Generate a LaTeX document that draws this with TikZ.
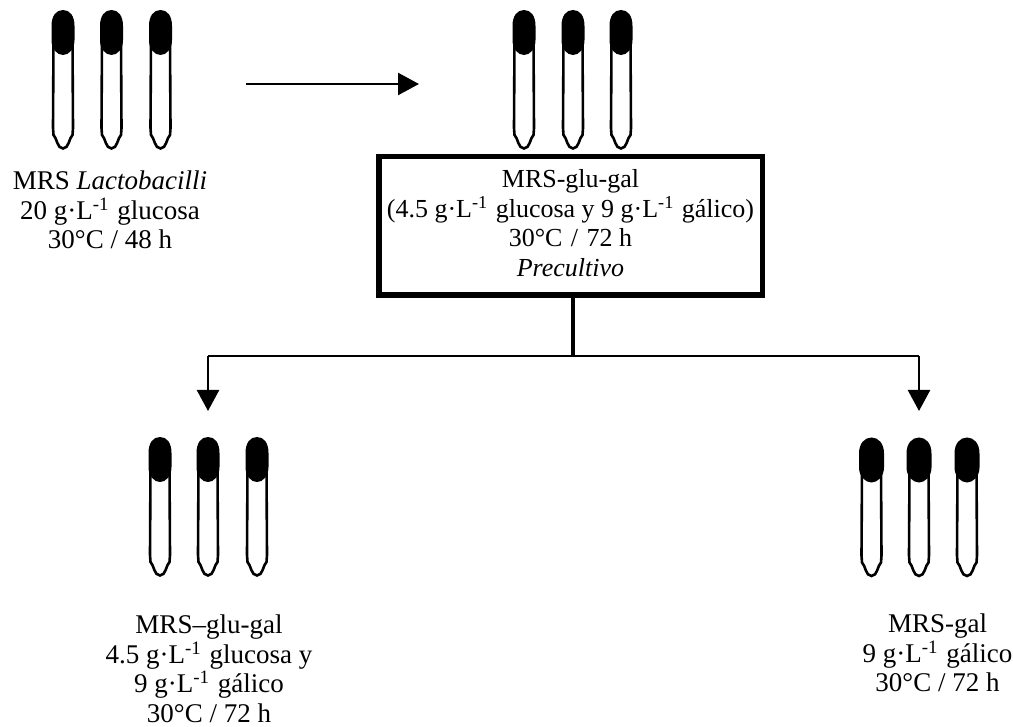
\documentclass[tikz,border=0pt]{standalone}
\usepackage{fontspec}
\setmainfont{Liberation Serif}
\usetikzlibrary{arrows.meta}
\newcommand{\inv}{\textsuperscript{-1}\hspace{1.5pt}}
\newcommand{\tube}[3]{%
  % #1 centre x, #2 top y, #3 half width of the cap
  \draw[tubeline] (#1-9.5,#2+30) -- (#1-10,#2+118) -- (#1-9.5,#2+125)
    .. controls (#1-6,#2+128) and (#1-6,#2+138.5) .. (#1,#2+138.5)
    .. controls (#1+6,#2+138.5) and (#1+6,#2+128) .. (#1+9.5,#2+125)
    -- (#1+10,#2+118) -- (#1+9.5,#2+30);
  \fill (#1,#2)
    .. controls (#1+7,#2) and (#1+#3,#2+6) .. (#1+#3,#2+16)
    -- (#1+#3,#2+30)
    .. controls (#1+#3,#2+39) and (#1+6,#2+45) .. (#1,#2+45)
    .. controls (#1-6,#2+45) and (#1-#3,#2+39) .. (#1-#3,#2+30)
    -- (#1-#3,#2+16)
    .. controls (#1-#3,#2+6) and (#1-7,#2) .. (#1,#2) -- cycle;
}
\tikzset{
  tubeline/.style={line width=2.6pt},
  lab/.style={align=center,font=\fontsize{27}{29.5}\selectfont,inner sep=0pt},
  boxed/.style={draw,line width=5.5pt,minimum width=383.5pt,minimum height=138.5pt,align=center,
    font=\fontsize{26}{29.5}\selectfont,inner sep=0pt},
  conn/.style={line width=2pt},
  stem/.style={line width=3.5pt},
  arr/.style={line width=2.4pt,-{Triangle[width=22pt,length=21pt]}}
}
\begin{document}
\begin{tikzpicture}[x=1pt,y=-1pt]
\useasboundingbox (0,0) rectangle (1013,727);
\foreach \c in {63,111.5,160.5} {\tube{\c}{10}{11.5}}
\foreach \c in {524,573,621} {\tube{\c}{10}{11.5}}
\foreach \c in {160,208,257} {\tube{\c}{437}{11.5}}
\foreach \c in {871.5,919,967} {\tube{\c}{437.5}{12.5}}
\node[lab] (l1) at (110,210) {MRS \textit{Lactobacilli}\\20 g·L\inv{} glucosa\\30°C / 48 h};
\node[boxed] (box) at (570.5,226) {MRS-glu-gal\\(4.5 g·L\inv{} glucosa y 9 g·L\inv{} gálico)\\30°C\hspace{2pt} / \hspace{2pt}72 h\\\textit{Precultivo}\\[-23.5pt]\mbox{}};
\node[lab] (l3) at (209,669) {MRS--glu-gal\\4.5 g·L\inv{} glucosa y\\9 g·L\inv{} gálico\\30°C / 72 h};
\node[lab] (l4) at (937.5,653) {MRS-gal\\9 g·L\inv{} gálico\\30°C / 72 h};
\coordinate (a0) at (246,84);
\coordinate (a1) at (419,84);
\coordinate (j) at (573,357);
\coordinate (jl) at (208,356);
\coordinate (jr) at (919,356);
\coordinate (tl) at (208,411);
\coordinate (tr) at (919,411);
\draw[arr] (a0) -- (a1);
\draw[stem] (box.south -| j) -- (j);
\draw[conn] (jl) -- (jr);
\draw[arr] (jl) -- (tl);
\draw[arr] (jr) -- (tr);
\end{tikzpicture}
\end{document}
